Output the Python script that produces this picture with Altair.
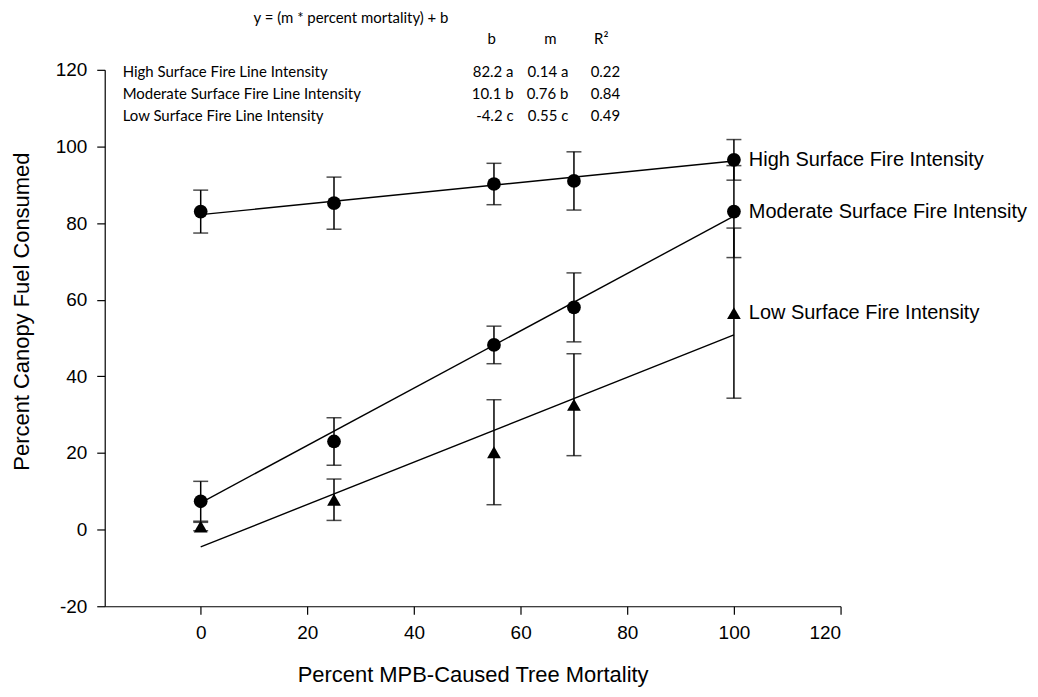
import altair as alt
import pandas as pd

# ---- data ----
mortality = [0, 25, 55, 70, 100]
series_names = ["High", "Moderate", "Low"]
high_mean = [83.0, 85.2, 90.2, 91.0, 96.5]
high_err = [5.6, 6.8, 5.4, 7.6, 5.3]
mod_mean = [7.4, 23.0, 48.2, 58.0, 83.0]
mod_err = [5.2, 6.2, 4.9, 9.0, 12.0]
low_mean = [0.8, 7.8, 20.2, 32.6, 56.5]
low_err = [1.1, 5.4, 13.7, 13.3, 22.2]

fit_x = [0, 100]
high_fit = [82.2, 96.2]
mod_fit = [7.0, 81.8]
low_fit = [-4.5, 50.8]

end_labels = ["High Surface Fire Intensity",
              "Moderate Surface Fire Intensity",
              "Low Surface Fire Intensity"]

equation = "y = (m * percent mortality) + b"
table_labels = ["High Surface Fire Line Intensity",
                "Moderate Surface Fire Line Intensity",
                "Low Surface Fire Line Intensity"]
table_b = ["82.2 a", "10.1 b", "-4.2 c"]
table_m = ["0.14 a", "0.76 b", "0.55 c"]
table_r2 = ["0.22", "0.84", "0.49"]
headers = ["b", "m", "R²"]

x_ticks = [0, 20, 40, 60, 80, 100, 120]
y_ticks = [-20, 0, 20, 40, 60, 80, 100, 120]

# ---- tables ----
means = [high_mean, mod_mean, low_mean]
errs = [high_err, mod_err, low_err]
fits = [high_fit, mod_fit, low_fit]

rows = []
for s, mv, ev in zip(series_names, means, errs):
    for x, m, e in zip(mortality, mv, ev):
        rows.append({"series": s, "x": x, "mean": m, "lo": m - e, "hi": m + e})
pts = pd.DataFrame(rows)

fit_rows = []
for s, fv in zip(series_names, fits):
    for x, y in zip(fit_x, fv):
        fit_rows.append({"series": s, "x": x, "y": y})
fit_df = pd.DataFrame(fit_rows)

end_df = pd.DataFrame({"series": series_names,
                       "x": [mortality[-1]] * 3,
                       "y": [mv[-1] for mv in means],
                       "label": end_labels})

tab_df = pd.DataFrame({"row": [0, 1, 2], "label": table_labels,
                       "b": table_b, "m": table_m, "r2": table_r2})

FONT = "Liberation Sans"
TFONT = "Lato"

xs = alt.Scale(domain=[-18, 120], nice=False, zero=False)
ys = alt.Scale(domain=[-20, 120], nice=False, zero=False)

x_enc = alt.X("x:Q", scale=xs,
              axis=alt.Axis(values=x_ticks, title="Percent MPB-Caused Tree Mortality",
                            titleX=369, titleY=68, titleBaseline="middle",
                            titleAnchor="middle"))
y_enc_axis = alt.Axis(values=y_ticks, title="Percent Canopy Fuel Consumed",
                      titleX=-83, titleY=242, titleBaseline="middle",
                      titleAngle=-90, titleAlign="center",
                      labelExpr="datum.value < 0 ? '-' + abs(datum.value) : '' + datum.value")

lines = alt.Chart(fit_df).mark_line(color="black", strokeWidth=1.4).encode(
    x=x_enc,
    y=alt.Y("y:Q", scale=ys, axis=y_enc_axis),
    detail="series:N",
)

bars = alt.Chart(pts).mark_errorbar(ticks=True, size=15, thickness=1.5, color="black").encode(
    x=alt.X("x:Q", scale=xs),
    y=alt.Y("lo:Q", scale=ys, title="Percent Canopy Fuel Consumed"),
    y2="hi:Q",
    detail="series:N",
)

points = alt.Chart(pts).mark_point(filled=True, color="black", opacity=1, size=190).encode(
    x=alt.X("x:Q", scale=xs),
    y=alt.Y("mean:Q", scale=ys),
    shape=alt.Shape("series:N",
                    scale=alt.Scale(domain=series_names,
                                    range=["circle", "circle", "triangle-up"]),
                    legend=None),
)

ends = alt.Chart(end_df).mark_text(align="left", baseline="middle", dx=15,
                                   font=FONT, fontSize=20, color="black").encode(
    x=alt.X("x:Q", scale=xs),
    y=alt.Y("y:Q", scale=ys),
    text="label:N",
)

tbase = alt.Chart(tab_df).transform_calculate(ypix="datum.row * 22 + 2")
tkw = dict(baseline="middle", font=TFONT, fontSize=15, color="black")
t_lab = tbase.mark_text(align="left", **tkw).encode(
    x=alt.value(18), y=alt.Y("ypix:Q", scale=None), text="label:N")
t_b = tbase.mark_text(align="right", **tkw).encode(
    x=alt.value(410), y=alt.Y("ypix:Q", scale=None), text="b:N")
t_m = tbase.mark_text(align="right", **tkw).encode(
    x=alt.value(465), y=alt.Y("ypix:Q", scale=None), text="m:N")
t_r = tbase.mark_text(align="right", **tkw).encode(
    x=alt.value(517), y=alt.Y("ypix:Q", scale=None), text="r2:N")

hdr_df = pd.DataFrame({"h": headers, "col": [0, 1, 2]})
hdr = alt.Chart(hdr_df).transform_calculate(
    xpix="datum.col == 0 ? 388 : (datum.col == 1 ? 447 : 498)"
).mark_text(align="center", **tkw).encode(
    x=alt.X("xpix:Q", scale=None), y=alt.value(-31), text="h:N")

eq_df = pd.DataFrame({"t": [equation]})
eq = alt.Chart(eq_df).mark_text(align="center", **tkw).encode(
    x=alt.value(247), y=alt.value(-52), text="t:N")

chart = alt.layer(lines, bars, points, ends, t_lab, t_b, t_m, t_r, hdr, eq).properties(
    width=738, height=538,
    autosize=alt.AutoSizeParams(type="none"),
    padding={"left": 97, "top": 61, "right": 190, "bottom": 84},
).configure_view(stroke=None).configure_axis(
    grid=False, domainColor="black", domainWidth=1.2, tickColor="black", tickWidth=1.2,
    tickSize=8, labelColor="black", labelFont=FONT, labelFontSize=19,
    titleColor="black", titleFont=FONT, titleFontSize=22, titleFontWeight="normal",
).configure_axisX(labelPadding=9).configure_axisY(labelPadding=10)

chart.save("out.html", embed_options={"renderer": "svg", "actions": False})
